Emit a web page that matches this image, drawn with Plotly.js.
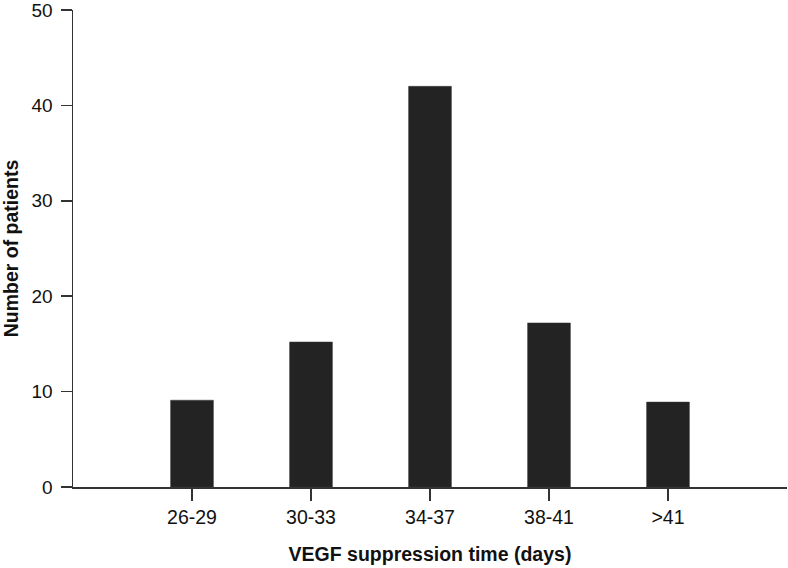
<!DOCTYPE html>
<html>
<head>
<meta charset="utf-8">
<script src="https://cdn.plot.ly/plotly-3.0.1.min.js"></script>
<style>html,body{margin:0;padding:0;background:#fff;}#chart{width:788px;height:568px;}</style>
</head>
<body>
<div id="chart"></div>
<script>
const categories = ["26-29", "30-33", "34-37", "38-41", ">41"];
const patients = [9.1, 15.2, 42.0, 17.2, 8.9];
const yTicks = [0, 10, 20, 30, 40, 50];

const trace = {
  type: "bar",
  x: categories.map((c, i) => i),
  y: patients,
  width: 0.36,
  marker: {color: "#232323", line: {color: "#3a3a3a", width: 0.5}},
  hoverinfo: "skip"
};

const layout = {
  width: 788, height: 568,
  margin: {l: 73, r: 1, t: 10, b: 81},
  paper_bgcolor: "#fff", plot_bgcolor: "#fff",
  font: {family: "Liberation Sans, Arial, sans-serif", color: "#111", size: 19},
  showlegend: false,
  xaxis: {
    range: [-1, 5],
    tickmode: "array",
    tickvals: categories.map((c, i) => i),
    ticktext: categories,
    ticks: "outside", ticklen: 12, tickwidth: 1.5, tickcolor: "#333",
    showline: true, linecolor: "#333", linewidth: 1.5,
    showgrid: false, zeroline: false, fixedrange: true,
    tickfont: {size: 19.5},
    title: {text: "<b>VEGF suppression time (days)</b>", font: {size: 19.5}, standoff: 20}
  },
  yaxis: {
    range: [0, 50],
    tickmode: "array",
    tickvals: yTicks,
    ticks: "outside", ticklen: 11, tickwidth: 1.5, tickcolor: "#333",
    ticklabelstandoff: 4,
    ticklabeloverflow: "allow",
    showline: true, linecolor: "#333", linewidth: 1.5,
    showgrid: false, zeroline: false, fixedrange: true,
    tickfont: {size: 19},
    title: {text: "<b>Number of patients</b>", font: {size: 19.5}, standoff: 12}
  }
};

Plotly.newPlot("chart", [trace], layout, {displayModeBar: false, staticPlot: true});
</script>
</body>
</html>
